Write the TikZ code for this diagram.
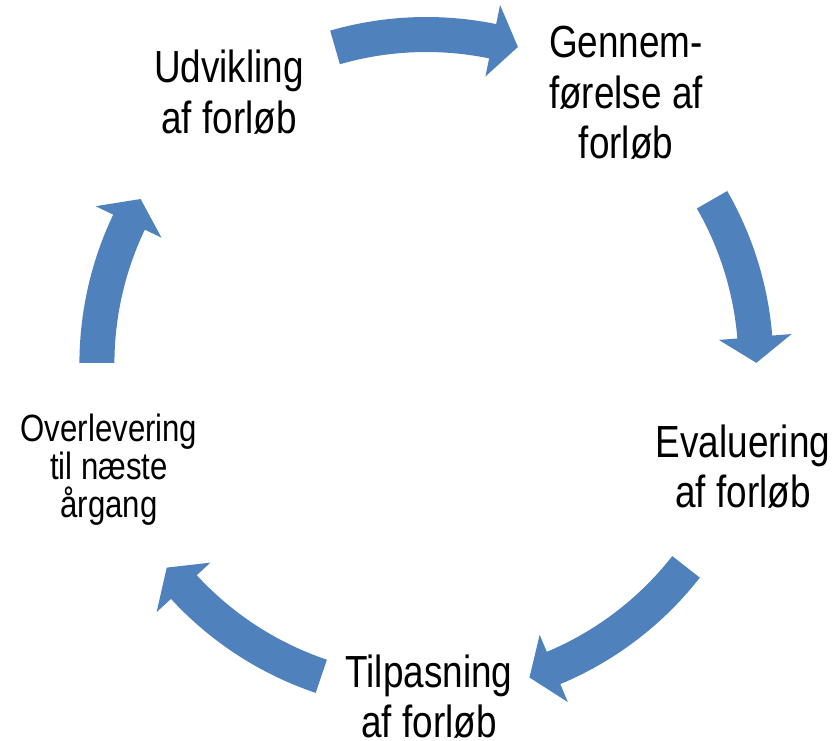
\documentclass[tikz,border=0pt]{standalone}
\usepackage{fontspec}
\setmainfont{Liberation Sans}[FakeStretch=0.82]
\definecolor{cyc}{RGB}{79,129,189}
\tikzset{
  cyclefill/.style={fill=cyc, draw=none},
  biglabel/.style={align=center, inner sep=0pt, anchor=base, font=\fontsize{45bp}{50bp}\selectfont},
  smalllabel/.style={align=center, inner sep=0pt, anchor=base, font=\fontsize{38bp}{38bp}\selectfont},
}
% #1 = start angle, #2 = tip angle (screen angles, clockwise)
\newcommand{\cyclearrow}[2]{%
  \pgfmathsetmacro{\cas}{#1}%
  \pgfmathsetmacro{\cah}{#2-4.5}%
  \pgfmathsetmacro{\cat}{#2}%
  \fill[cyclefill, shift={(426.4,364)}]
    plot[domain=\cas:\cah, samples=40] (\x:347)
    -- (\cah:366.5) -- (\cat:330) -- (\cah:293.5) -- (\cah:312)
    -- plot[domain=\cah:\cas, samples=40] (\x:312) -- cycle;
}
\begin{document}
\begin{tikzpicture}[x=1bp, y=-1bp]
\useasboundingbox (0,0) rectangle (838,741);
\cyclearrow{-106.1}{-73.9}
\cyclearrow{-29.9}{-0.2}
\cyclearrow{38.0}{71.8}
\cyclearrow{108.6}{141.9}
\cyclearrow{180.2}{210.0}
\node[biglabel] (udv) at (229,133) {Udvikling\\af forløb};
\node[biglabel] (gen) at (626,158) {Gennem-\\førelse af\\forløb};
\node[biglabel] (eva) at (743,507) {Evaluering\\af forløb};
\node[biglabel] (til) at (429,737) {Tilpasning\\af forløb};
\node[smalllabel] (ovr) at (109,517) {Overlevering\\til næste\\årgang};
\end{tikzpicture}
\end{document}
